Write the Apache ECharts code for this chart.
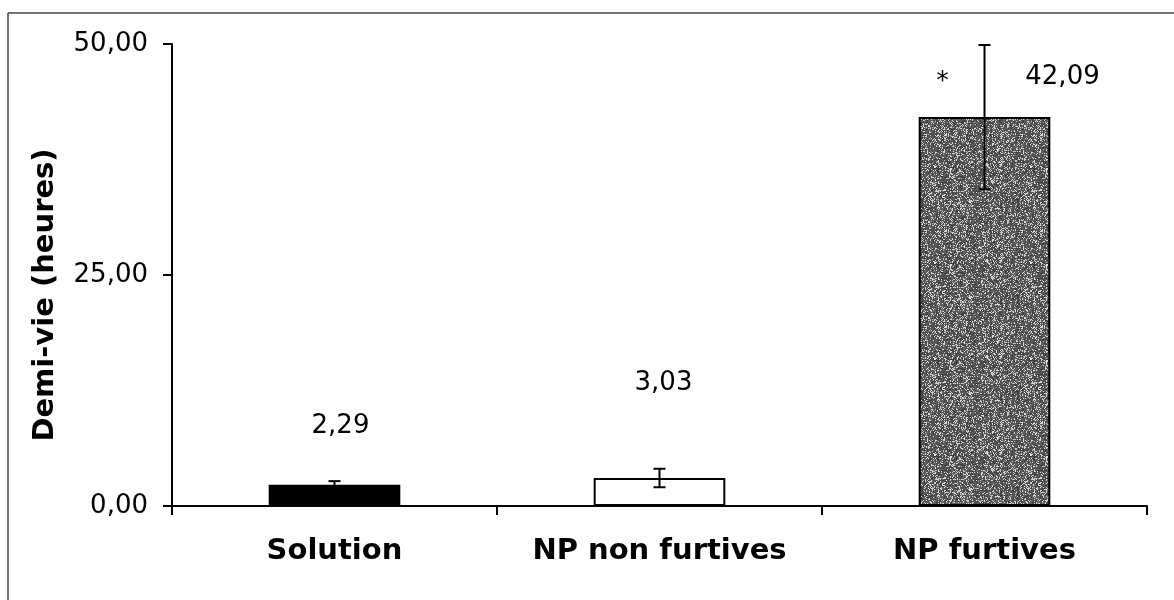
<!DOCTYPE html>
<html>
<head>
<meta charset="utf-8">
<script src="https://cdn.jsdelivr.net/npm/echarts@6/dist/echarts.min.js"></script>
<style>
  html, body { margin: 0; padding: 0; background: #fff; }
  #chart { width: 1174px; height: 600px; }
</style>
</head>
<body>
<div id="chart"></div>
<script>
// ---- data ----
const categories = ['Solution', 'NP non furtives', 'NP furtives'];
const halfLife = [2.29, 3.03, 42.09];
const errors = [0.4, 1.0, 7.8];
const significance = ['', '', '*'];
const yTicks = [0, 25, 50];

// ---- styles ----
function noisePattern() {
  const c = document.createElement('canvas');
  c.width = 96; c.height = 96;
  const ctx = c.getContext('2d');
  const img = ctx.createImageData(96, 96);
  let s = 12345;
  for (let i = 0; i < 96 * 96; i++) {
    s = (s * 1103515245 + 12345) & 0x7fffffff;
    const r = (s >> 8) / 8388608;
    const g = r < 0.22 ? 190 + Math.floor(r * 200) : 40 + Math.floor(r * 70);
    img.data[i * 4] = g; img.data[i * 4 + 1] = g; img.data[i * 4 + 2] = g; img.data[i * 4 + 3] = 255;
  }
  ctx.putImageData(img, 0, 0);
  return c;
}
const fills = ['#000000', '#ffffff', { image: noisePattern(), repeat: 'repeat' }];
const labelOffsets = [[6, -41], [4, -77], [78, -22]];

const fmt = v => v.toFixed(2).replace('.', ',');

const barData = halfLife.map((v, i) => ({
  value: v,
  itemStyle: { color: fills[i], borderColor: '#000', borderWidth: 2 },
  label: { offset: labelOffsets[i] }
}));

const errData = halfLife.map((v, i) => [i, v, errors[i], significance[i]]);

const chart = echarts.init(document.getElementById('chart'), null, { renderer: 'canvas' });
chart.setOption({
  animation: false,
  backgroundColor: '#fff',
  textStyle: { fontFamily: 'DejaVu Sans' },
  grid: { left: 172, right: 27, top: 44, bottom: 94 },
  xAxis: {
    type: 'category',
    data: categories,
    boundaryGap: true,
    axisLine: { lineStyle: { color: '#000', width: 2 } },
    axisTick: { show: true, interval: 0, length: 9, lineStyle: { color: '#000', width: 2 } },
    axisLabel: { color: '#000', fontSize: 29, fontWeight: 'bold', margin: 31, interval: 0, hideOverlap: false, fontFamily: 'DejaVu Sans' }
  },
  yAxis: {
    type: 'value',
    min: yTicks[0], max: yTicks[yTicks.length - 1], interval: yTicks[1] - yTicks[0],
    name: 'Demi-vie (heures)',
    nameLocation: 'middle',
    nameGap: 112,
    nameTextStyle: { color: '#000', fontSize: 29, fontWeight: 'bold', fontFamily: 'DejaVu Sans', padding: [0, 40, 0, 0] },
    axisLine: { show: true, lineStyle: { color: '#000', width: 2 } },
    axisTick: { show: true, length: 9, lineStyle: { color: '#000', width: 2 } },
    axisLabel: { color: '#000', fontSize: 26, margin: 24, formatter: fmt, fontFamily: 'DejaVu Sans' },
    splitLine: { show: false }
  },
  graphic: [
    { type: 'line', shape: { x1: 8, y1: 13, x2: 1174, y2: 13 }, style: { stroke: '#444', lineWidth: 1.5 } },
    { type: 'line', shape: { x1: 8, y1: 13, x2: 8, y2: 600 }, style: { stroke: '#444', lineWidth: 1.5 } }
  ],
  series: [
    {
      type: 'bar',
      data: barData,
      barWidth: '40.5%',
      label: {
        show: true,
        position: 'top',
        color: '#000',
        fontSize: 26,
        fontFamily: 'DejaVu Sans',
        formatter: p => fmt(p.value)
      }
    },
    {
      type: 'custom',
      data: errData,
      z: 10,
      renderItem: function (params, api) {
        const i = api.value(0), v = api.value(1), e = api.value(2);
        const top = api.coord([i, v + e]);
        const bot = api.coord([i, v - e]);
        const mid = api.coord([i, v]);
        const cap = 6;
        const st = { stroke: '#000', lineWidth: 2 };
        const children = [
          { type: 'line', shape: { x1: top[0], y1: top[1], x2: bot[0], y2: bot[1] }, style: st },
          { type: 'line', shape: { x1: top[0] - cap, y1: top[1], x2: top[0] + cap, y2: top[1] }, style: st },
          { type: 'line', shape: { x1: bot[0] - cap, y1: bot[1], x2: bot[0] + cap, y2: bot[1] }, style: st }
        ];
        const sig = significance[params.dataIndex];
        if (sig) {
          children.push({
            type: 'text',
            style: { text: sig, x: mid[0] - 42, y: mid[1] - 36, fill: '#000', font: '25px "DejaVu Sans"', align: 'center', verticalAlign: 'middle' }
          });
        }
        return { type: 'group', children: children };
      }
    }
  ]
});
</script>
</body>
</html>
